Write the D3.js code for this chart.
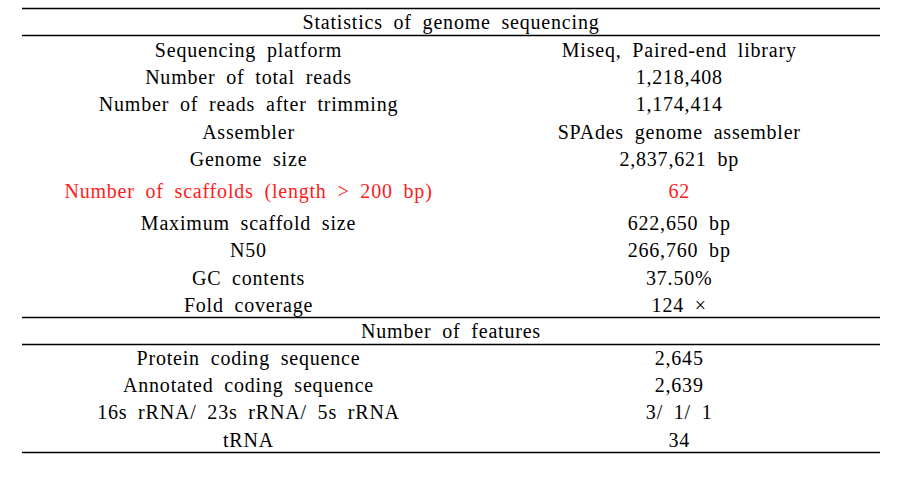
<!DOCTYPE html>
<html><head><meta charset="utf-8">
<script src="https://cdn.jsdelivr.net/npm/d3@7"></script>
<style>body{margin:0;background:#fff}</style>
</head><body>
<script>
const section1Title = "Statistics of genome sequencing";
const section1Labels = ["Sequencing platform","Number of total reads","Number of reads after trimming","Assembler","Genome size","Number of scaffolds (length > 200 bp)","Maximum scaffold size","N50","GC contents","Fold coverage"];
const section1Values = ["Miseq, Paired-end library","1,218,408","1,174,414","SPAdes genome assembler","2,837,621 bp","62","622,650 bp","266,760 bp","37.50%","124 ×"];
const highlighted = [false,false,false,false,false,true,false,false,false,false];
const section2Title = "Number of features";
const section2Labels = ["Protein coding sequence","Annotated coding sequence","16s rRNA/ 23s rRNA/ 5s rRNA","tRNA"];
const section2Values = ["2,645","2,639","3/ 1/ 1","34"];

const W = 905, H = 482;
const svg = d3.select("body").append("svg").attr("width", W).attr("height", H);
const x = d3.scaleLinear().domain([0, 1]).range([22, 880]);
const colCenter = [0.264, 0.766];

const rowH = 27.2;
const font = "'Liberation Serif', 'DejaVu Serif', serif";
const fs = 20;

function text(t, cx, cy, color) {
  svg.append("text").attr("x", cx).attr("y", cy)
    .attr("text-anchor", "middle").attr("dominant-baseline", "central")
    .attr("font-family", font).attr("font-size", fs)
    .attr("letter-spacing", "0.8px")
    .attr("word-spacing", "5px")
    .attr("fill", color || "#000").text(t);
}
function hline(y) {
  svg.append("line").attr("x1", x(0)).attr("x2", x(1)).attr("y1", y).attr("y2", y)
    .attr("stroke", "#000").attr("stroke-width", 1.3);
}

hline(8.5);
text(section1Title, x(0.5), 21.5);
hline(35.5);
let y = 50;
section1Labels.forEach((lab, i) => {
  const hl = highlighted[i];
  if (hl) y += 5;
  const c = hl ? "#ff1a1a" : "#000";
  text(lab, x(colCenter[0]), y, c);
  text(section1Values[i], x(colCenter[1]), y, c);
  y += rowH;
  if (hl) y += 5;
});
hline(317.5);
text(section2Title, x(0.5), 331);
hline(344.5);
y = 358;
section2Labels.forEach((lab, i) => {
  text(lab, x(colCenter[0]), y);
  text(section2Values[i], x(colCenter[1]), y);
  y += rowH;
});
hline(452.5);
</script>
</body></html>
